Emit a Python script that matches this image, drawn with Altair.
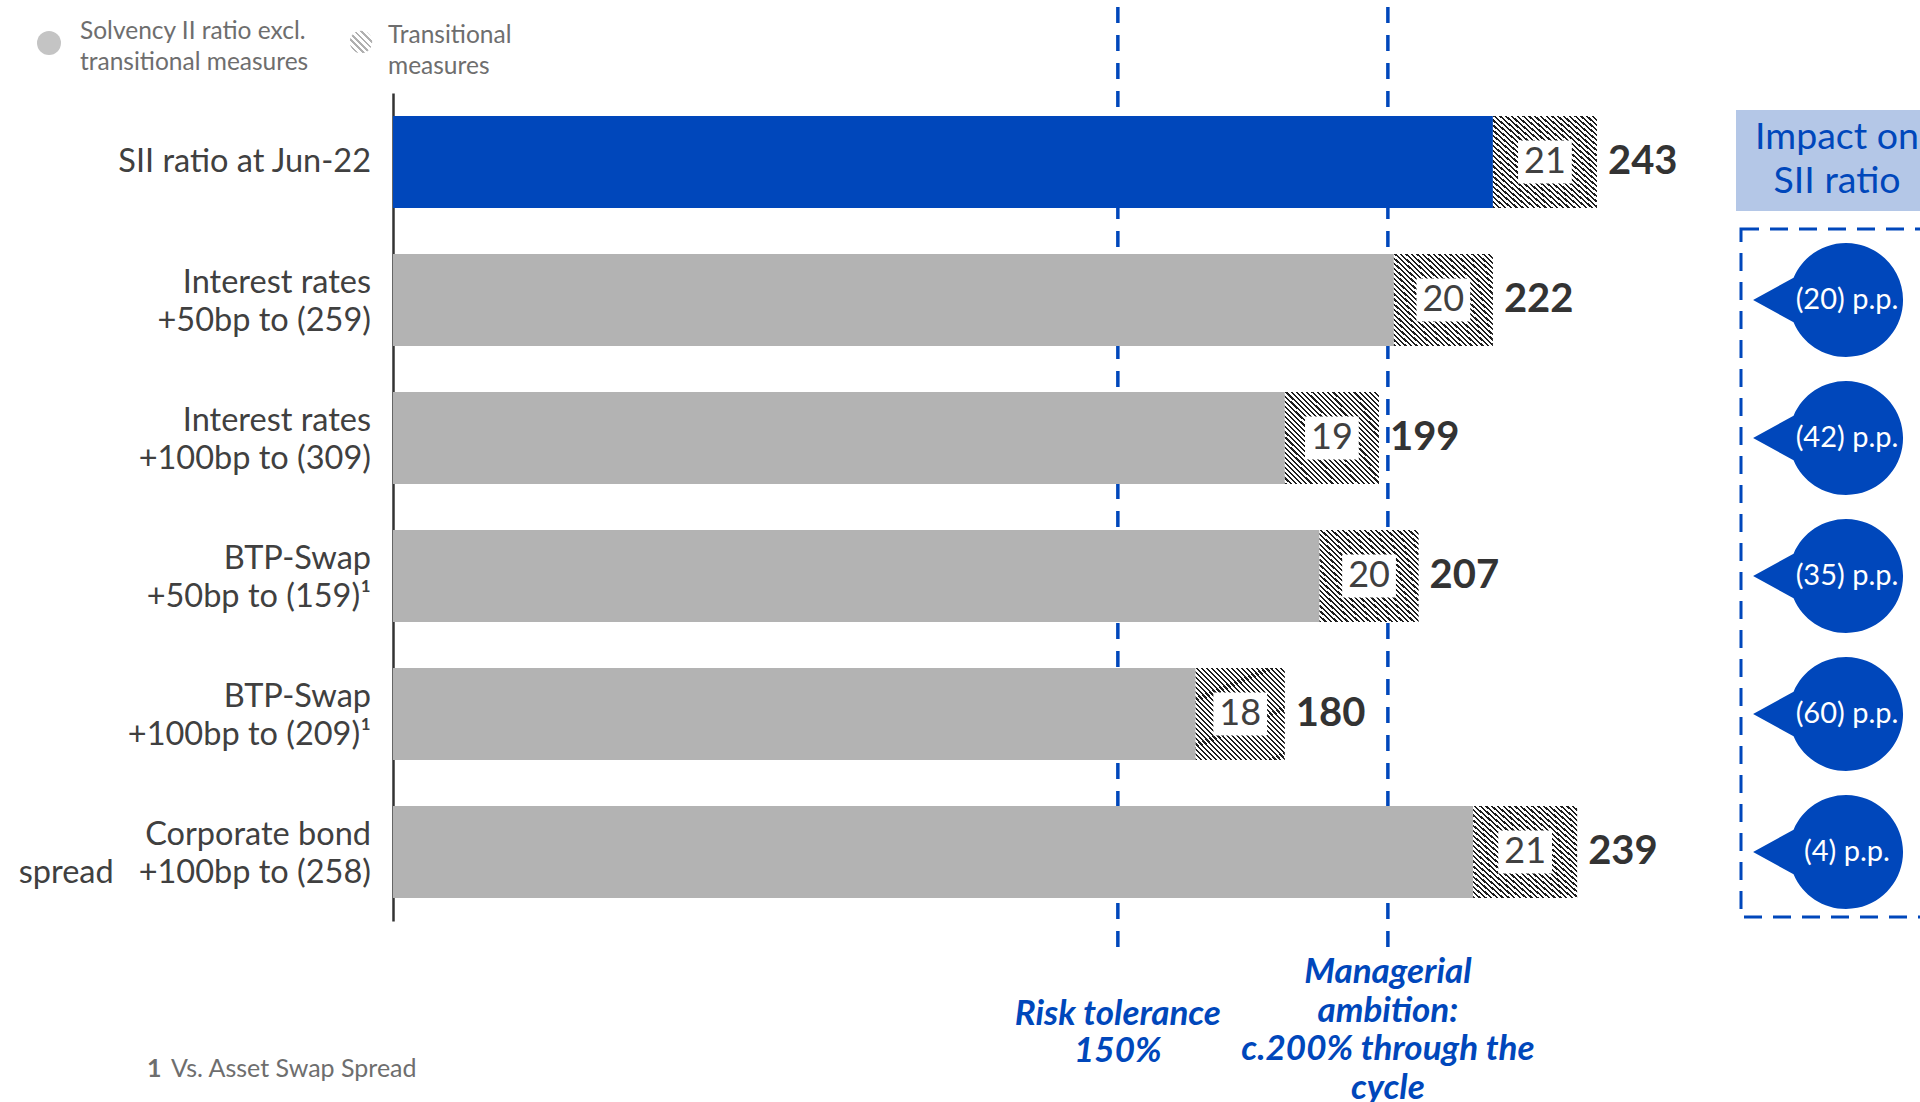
import altair as alt
import pandas as pd

# ---------------- data ----------------
categories = [
    "SII ratio at Jun-22",
    "Interest rates|+50bp to (259)",
    "Interest rates|+100bp to (309)",
    "BTP-Swap|+50bp to (159)¹",
    "BTP-Swap|+100bp to (209)¹",
    "Corporate bond|spread\u00a0\u00a0\u00a0+100bp to (258)",
]
excl_values = [222, 202, 180, 187, 162, 218]
trans_values = [21, 20, 19, 20, 18, 21]
total_values = [243, 222, 199, 207, 180, 239]
row_kind = ["base", "shock", "shock", "shock", "shock", "shock"]

impact_categories = categories[1:]
impact_labels = ["(20) p.p.", "(42) p.p.", "(35) p.p.", "(60) p.p.", "(4) p.p."]

threshold_values = [146.3, 200.8]
risk_label = ["Risk tolerance", "150%"]
ambition_label = ["Managerial", "ambition:", "c.200% through the", "cycle"]

legend_labels = [["Solvency II ratio excl.", "transitional measures"], ["Transitional", "measures"]]
footnote_num = "1"
footnote_text = "Vs. Asset Swap Spread"
impact_title = ["Impact on", "SII ratio"]

# ---------------- styles ----------------
FONT = "Lato"
BLUE = "#0047BB"
GRAY = "#B3B3B3"
TXT = "#404040"
W, H = 1527, 828

def hatch(dark, light, n):
    stops = []
    for i in range(n):
        a, b, c = i / n, (i + 0.42) / n, (i + 1) / n
        stops += [alt.GradientStop(offset=a, color=dark), alt.GradientStop(offset=b, color=dark),
                  alt.GradientStop(offset=b, color=light), alt.GradientStop(offset=c, color=light)]
    return alt.LinearGradient(gradient="linear", stops=stops, x1=0, y1=1, x2=1, y2=0)

HATCH = hatch("#1e1e1e", "#ffffff", 36)
HATCH_LEG = hatch("#b0b0b0", "#ffffff", 7)

df = pd.DataFrame({"cat": categories, "excl": excl_values, "trans": trans_values,
                   "total": total_values, "kind": row_kind})
df["trans_end"] = df["excl"] + df["trans"]
df["excl_mid"] = df["excl"] / 2
df["trans_mid"] = df["excl"] + df["trans"] / 2

imp = pd.DataFrame({"cat": impact_categories, "label": impact_labels})
thr = pd.DataFrame({"x": threshold_values})

xs = alt.Scale(domain=[0, 308.2], nice=False, zero=True)
ys = alt.Scale(domain=categories, paddingInner=1 / 3, paddingOuter=1 / 6)
yaxis = alt.Axis(title=None, labels=False, ticks=False, domainColor="#333333", domainWidth=2.5)
Y = alt.Y("cat:N", scale=ys, axis=yaxis)

base = alt.Chart(df)

rules = alt.Chart(thr).mark_rule(color=BLUE, strokeWidth=3.5, strokeDash=[16, 12]).encode(
    x=alt.X("x:Q", scale=xs, axis=None), y=alt.value(-86), y2=alt.value(854))

bars = base.mark_bar().encode(
    x=alt.X("excl:Q", scale=xs, axis=None), y=Y,
    color=alt.Color("kind:N", scale=alt.Scale(domain=["base", "shock"], range=[BLUE, GRAY]), legend=None))

tbars = base.mark_bar(fill=HATCH).encode(
    x=alt.X("excl:Q", scale=xs, axis=None), x2="trans_end:Q", y=Y)

BOX = "M -1.25 -1 L 1.25 -1 L 1.25 1 L -1.25 1 Z"
boxes = base.mark_point(shape=BOX, size=1850, filled=True, fill="white", opacity=1, strokeWidth=0).encode(
    x=alt.X("trans_mid:Q", scale=xs, axis=None), y=Y)

excl_txt = base.mark_text(font=FONT, fontSize=36, baseline="middle").encode(
    x=alt.X("excl_mid:Q", scale=xs, axis=None), y=Y, text="excl:Q",
    color=alt.Color("kind:N", scale=alt.Scale(domain=["base", "shock"], range=["white", TXT]), legend=None))

trans_txt = base.mark_text(font=FONT, fontSize=36, baseline="middle", color=TXT).encode(
    x=alt.X("trans_mid:Q", scale=xs, axis=None), y=Y, text="trans:Q")

tot_txt = base.mark_text(font=FONT, fontSize=40, fontWeight="bold", baseline="middle",
                         align="left", dx=11, color="#333333").encode(
    x=alt.X("trans_end:Q", scale=xs, axis=None), y=Y, text="total:Q")

# category labels (one or two lines, centred on the bar)
lab = base.transform_calculate(lines="split(datum.cat, '|')", n="length(split(datum.cat, '|'))")
lab1 = lab.transform_filter("datum.n == 1").mark_text(
    font=FONT, fontSize=32.5, color=TXT, align="right", baseline="middle", lineHeight=38).encode(
    x=alt.value(-22), y=Y, text="lines:N")
lab2 = lab.transform_filter("datum.n == 2").mark_text(
    font=FONT, fontSize=32.5, color=TXT, align="right", baseline="middle", lineHeight=38, dy=-17).encode(
    x=alt.value(-22), y=Y, text="lines:N")

# threshold annotations
risk_txt = alt.Chart(pd.DataFrame({"x": [threshold_values[0]]})).mark_text(
    font=FONT, fontSize=35, fontWeight="bold", fontStyle="italic", color=BLUE,
    lineHeight=37, baseline="middle").encode(
    x=alt.X("x:Q", scale=xs, axis=None), y=alt.value(921), text=alt.value(risk_label))
amb_txt = alt.Chart(pd.DataFrame({"x": [threshold_values[1]]})).mark_text(
    font=FONT, fontSize=35, fontWeight="bold", fontStyle="italic", color=BLUE,
    lineHeight=38.5, baseline="middle").encode(
    x=alt.X("x:Q", scale=xs, axis=None), y=alt.value(879), text=alt.value(ambition_label))

# impact panel
one = pd.DataFrame({"a": [0]})
imp_box = alt.Chart(one).mark_rect(color="#B4C7E7").encode(
    x=alt.value(1343), x2=alt.value(1560), y=alt.value(17), y2=alt.value(118))
imp_title = alt.Chart(one).mark_text(font=FONT, fontSize=37.5, color=BLUE, lineHeight=44,
                                     baseline="middle").encode(
    x=alt.value(1444), y=alt.value(44.5), text=alt.value(impact_title))
dash_box = alt.Chart(one).mark_rect(filled=False, stroke=BLUE, strokeWidth=3,
                                    strokeDash=[18, 11]).encode(
    x=alt.value(1348), x2=alt.value(1580), y=alt.value(136), y2=alt.value(824))

BUBBLE = "M -1.63 0 L -0.92 -0.39 A 1 1 0 1 1 -0.92 0.39 Z"
bubbles = alt.Chart(imp).mark_point(shape=BUBBLE, size=12996, filled=True, fill=BLUE,
                                    opacity=1, strokeWidth=0).encode(
    x=alt.value(1453), y=Y)
bub_txt = alt.Chart(imp).mark_text(font=FONT, fontSize=29, color="white", baseline="middle").encode(
    x=alt.value(1454), y=Y, text="label:N")

# legend
leg_c1 = alt.Chart(one).mark_point(shape="circle", size=576, filled=True, fill="#C4C4C4",
                                   opacity=1, strokeWidth=0).encode(x=alt.value(-344), y=alt.value(-50))
leg_c2 = alt.Chart(one).mark_point(shape="circle", size=500, filled=True, fill=HATCH_LEG,
                                   opacity=1, strokeWidth=0).encode(x=alt.value(-32), y=alt.value(-51))
leg_t1 = alt.Chart(one).mark_text(font=FONT, fontSize=24.5, color="#6E6E6E", align="left",
                                  baseline="middle", lineHeight=31).encode(
    x=alt.value(-313), y=alt.value(-61.5), text=alt.value(legend_labels[0]))
leg_t2 = alt.Chart(one).mark_text(font=FONT, fontSize=24.5, color="#6E6E6E", align="left",
                                  baseline="middle", lineHeight=31).encode(
    x=alt.value(-5), y=alt.value(-57.5), text=alt.value(legend_labels[1]))

# footnote
fn1 = alt.Chart(one).mark_text(font=FONT, fontSize=25, fontWeight="bold", color="#6E6E6E",
                               align="left", baseline="middle").encode(
    x=alt.value(-246), y=alt.value(976), text=alt.value(footnote_num))
fn2 = alt.Chart(one).mark_text(font=FONT, fontSize=25, color="#6E6E6E",
                               align="left", baseline="middle").encode(
    x=alt.value(-222), y=alt.value(976), text=alt.value(footnote_text))

chart = alt.layer(
    rules, bars, tbars, boxes, excl_txt, trans_txt, tot_txt, lab1, lab2,
    risk_txt, amb_txt, imp_box, imp_title, dash_box, bubbles, bub_txt,
    leg_c1, leg_c2, leg_t1, leg_t2, fn1, fn2,
).properties(
    width=W, height=H,
    padding={"left": 393, "top": 93, "right": 0, "bottom": 181},
    autosize=alt.AutoSizeParams(type="none"),
).configure_view(stroke=None)

chart.save("out.html", embed_options={"renderer": "svg", "actions": False})
